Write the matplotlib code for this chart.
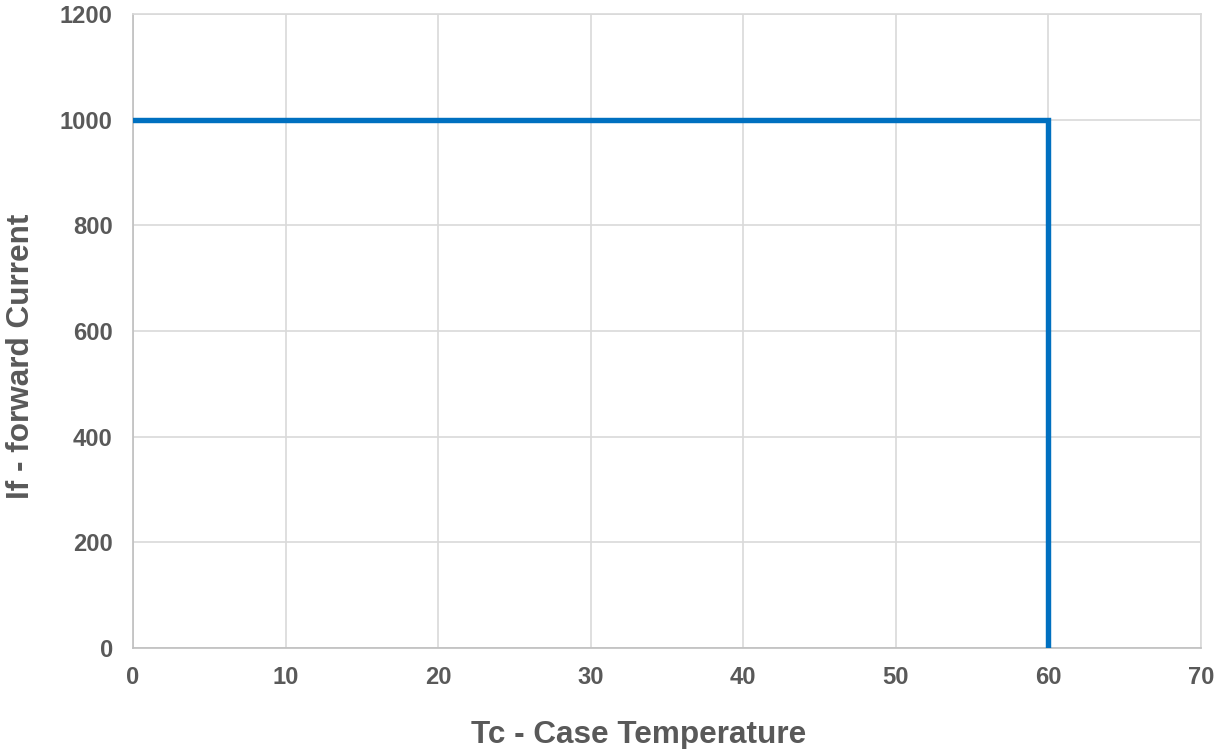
import matplotlib
matplotlib.use("Agg")
import matplotlib.pyplot as plt
from matplotlib import font_manager

# Data
temps = [0, 60, 60]
currents = [1000, 1000, 0]
x_ticks = [0, 10, 20, 30, 40, 50, 60, 70]
y_ticks = [0, 200, 400, 600, 800, 1000, 1200]
x_label = "Tc - Case Temperature"
y_label = "If - forward Current"

bold_path = None
for f in font_manager.fontManager.ttflist:
    if f.name == "Liberation Sans" and f.weight in (700, "bold") and f.style == "normal" and "Narrow" not in f.fname:
        bold_path = f.fname
        break
if bold_path:
    fp_tick = font_manager.FontProperties(fname=bold_path, size=17.1)
    fp_lab = font_manager.FontProperties(fname=bold_path, size=22.7)
else:
    fp_tick = font_manager.FontProperties(family="DejaVu Sans", weight="bold", size=15.5)
    fp_lab = font_manager.FontProperties(family="DejaVu Sans", weight="bold", size=20.5)

text_color = "#595959"
W, H = 1217, 749

fig = plt.figure(figsize=(W / 100, H / 100), dpi=100)
ax = fig.add_axes([133 / W, 101 / H, 1068 / W, 634 / H])

ax.plot(temps, currents, color="#0070C0", linewidth=3.9, solid_joinstyle="miter", zorder=3)

ax.set_xlim(0, 70)
ax.set_ylim(0, 1200)
ax.set_xticks(x_ticks)
ax.set_yticks(y_ticks)
ax.grid(True, color="#D9D9D9", linewidth=1.2)
ax.set_axisbelow(True)
for side in ["top", "right"]:
    ax.spines[side].set_color("#D9D9D9")
    ax.spines[side].set_linewidth(1.2)
for side in ["left", "bottom"]:
    ax.spines[side].set_color("#BFBFBF")
    ax.spines[side].set_linewidth(1.2)

ax.tick_params(axis="both", length=0, labelcolor=text_color)
ax.tick_params(axis="x", pad=13)
ax.tick_params(axis="y", pad=14.5)
for lbl in ax.get_xticklabels() + ax.get_yticklabels():
    lbl.set_fontproperties(fp_tick)

fig.text(638.5 / W, (H - 743) / H, x_label, fontproperties=fp_lab, color=text_color,
         ha="center", va="baseline")
fig.text(29 / W, (H - 356) / H, y_label, fontproperties=fp_lab, color=text_color,
         ha="center", va="baseline", rotation=90, rotation_mode="anchor")

fig.savefig("out.png", dpi=100)
